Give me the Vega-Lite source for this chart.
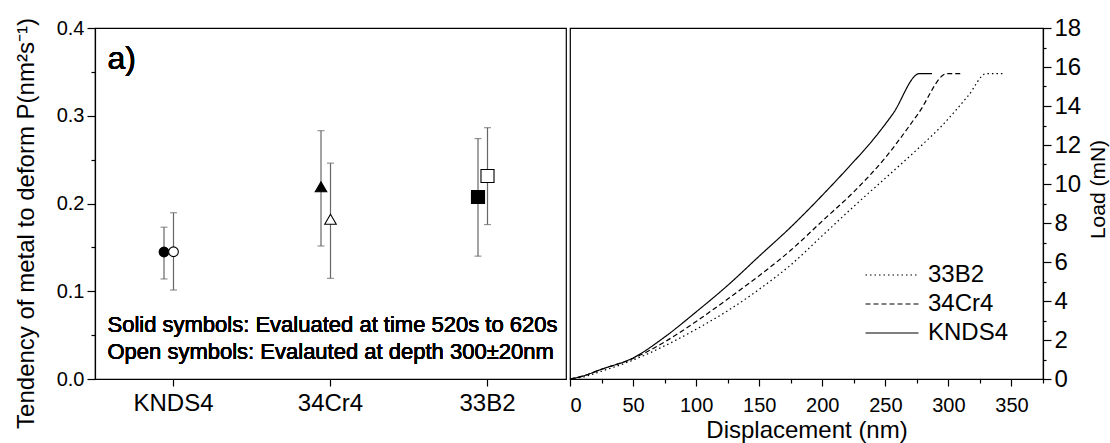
{
  "$schema": "https://vega.github.io/schema/vega-lite/v6.json",
  "padding": {"left": 13, "top": 15, "right": 0, "bottom": 0},
  "spacing": 0,
  "background": "white",
  "resolve": {"scale": {"strokeDash": "independent"}, "legend": {"strokeDash": "independent"}},
  "config": {
    "font": "Liberation Sans",
    "view": {"stroke": "black", "strokeWidth": 1.2},
    "axis": {
      "domainColor": "black", "tickColor": "black", "labelColor": "black", "titleColor": "black",
      "grid": false, "labelFontSize": 20, "titleFontSize": 22, "titleFontWeight": "normal",
      "domainWidth": 1.2, "tickWidth": 1.2, "labelFont": "Liberation Sans", "titleFont": "Liberation Sans"
    },
    "legend": {
      "labelFont": "Liberation Sans", "labelFontSize": 24, "labelColor": "black"
    }
  },
  "hconcat": [
    {
      "width": 471,
      "height": 351,
      "data": {"values": [
        {"sample": "KNDS4", "type": "Solid", "value": 0.1447, "lo": 0.114, "hi": 0.173},
        {"sample": "KNDS4", "type": "Open", "value": 0.145, "lo": 0.1014, "hi": 0.1895},
        {"sample": "34Cr4", "type": "Solid", "value": 0.219, "lo": 0.1516, "hi": 0.283},
        {"sample": "34Cr4", "type": "Open", "value": 0.182, "lo": 0.1147, "hi": 0.246},
        {"sample": "33B2", "type": "Solid", "value": 0.2074, "lo": 0.14, "hi": 0.274},
        {"sample": "33B2", "type": "Open", "value": 0.2313, "lo": 0.176, "hi": 0.2864}
      ]},
      "layer": [
        {
          "mark": {"type": "rule", "color": "#666666", "strokeWidth": 1.2},
          "encoding": {
            "x": {"field": "sample", "type": "nominal", "sort": ["KNDS4", "34Cr4", "33B2"],
                  "scale": {"paddingInner": 0, "paddingOuter": 0},
                  "axis": {"title": null, "labelAngle": 0, "labelFontSize": 24, "tickSize": 7, "labelPadding": 5}},
            "xOffset": {"field": "type", "type": "nominal",
                        "scale": {"type": "point", "domain": ["Solid", "Open"], "range": [69, 78.5], "padding": 0}},
            "y": {"field": "lo", "type": "quantitative",
                  "scale": {"domain": [0, 0.4], "nice": false, "zero": false},
                  "axis": {"orient": "left", "title": "Tendency of metal to deform P(nm²s⁻¹)", "titleFontSize": 24,
                           "values": [0, 0.1, 0.2, 0.3, 0.4], "format": ".1f", "tickSize": 8, "labelPadding": 3,
                           "titlePadding": 18, "titleY": 195}},
            "y2": {"field": "hi"}
          }
        },
        {
          "mark": {"type": "tick", "color": "#666666", "thickness": 1.2, "size": 7, "orient": "horizontal"},
          "encoding": {
            "x": {"field": "sample", "type": "nominal", "sort": ["KNDS4", "34Cr4", "33B2"],
                  "axis": {"title": null, "labelAngle": 0, "labelFontSize": 24, "tickSize": 7, "labelPadding": 5}},
            "xOffset": {"field": "type", "type": "nominal"},
            "y": {"field": "lo", "type": "quantitative", "axis": null}
          }
        },
        {
          "mark": {"type": "tick", "color": "#666666", "thickness": 1.2, "size": 7, "orient": "horizontal"},
          "encoding": {
            "x": {"field": "sample", "type": "nominal", "sort": ["KNDS4", "34Cr4", "33B2"],
                  "axis": {"title": null, "labelAngle": 0, "labelFontSize": 24, "tickSize": 7, "labelPadding": 5}},
            "xOffset": {"field": "type", "type": "nominal"},
            "y": {"field": "hi", "type": "quantitative", "axis": null}
          }
        },
        {
          "mark": {"type": "point", "filled": true, "stroke": "black", "strokeWidth": 1.1, "opacity": 1, "fillOpacity": 1},
          "encoding": {
            "x": {"field": "sample", "type": "nominal", "sort": ["KNDS4", "34Cr4", "33B2"],
                  "axis": {"title": null, "labelAngle": 0, "labelFontSize": 24, "tickSize": 7, "labelPadding": 5}},
            "xOffset": {"field": "type", "type": "nominal"},
            "y": {"field": "value", "type": "quantitative",
                  "axis": {"orient": "left", "values": [0.05, 0.15, 0.25, 0.35], "labels": false, "domain": false, "tickSize": 4, "title": null}},
            "shape": {"field": "sample", "type": "nominal",
                      "scale": {"domain": ["KNDS4", "34Cr4", "33B2"], "range": ["circle", "triangle-up", "square"]}, "legend": null},
            "size": {"field": "sample", "type": "nominal",
                     "scale": {"domain": ["KNDS4", "34Cr4", "33B2"], "range": [95, 170, 75]}, "legend": null},
            "fill": {"field": "type", "type": "nominal",
                     "scale": {"domain": ["Solid", "Open"], "range": ["black", "white"]}, "legend": null}
          }
        },
        {
          "mark": {"type": "text", "text": "a)", "fontSize": 32, "align": "left", "baseline": "middle", "dx": -66, "color": "black"},
          "encoding": {
            "x": {"datum": "KNDS4", "type": "nominal",
                  "axis": {"title": null, "labelAngle": 0, "labelFontSize": 24, "tickSize": 7, "labelPadding": 5}},
            "y": {"datum": 0.365, "type": "quantitative", "axis": null}
          }
        },
        {
          "mark": {"type": "text", "text": "Solid symbols: Evaluated at time 520s to 620s", "fontSize": 22, "align": "left", "baseline": "middle", "dx": -66, "color": "black"},
          "encoding": {
            "x": {"datum": "KNDS4", "type": "nominal",
                  "axis": {"title": null, "labelAngle": 0, "labelFontSize": 24, "tickSize": 7, "labelPadding": 5}},
            "y": {"datum": 0.0615, "type": "quantitative", "axis": null}
          }
        },
        {
          "mark": {"type": "text", "text": "Open symbols: Evalauted at depth 300±20nm", "fontSize": 22, "align": "left", "baseline": "middle", "dx": -66, "color": "black"},
          "encoding": {
            "x": {"datum": "KNDS4", "type": "nominal",
                  "axis": {"title": null, "labelAngle": 0, "labelFontSize": 24, "tickSize": 7, "labelPadding": 5}},
            "y": {"datum": 0.0308, "type": "quantitative", "axis": null}
          }
        }
      ],
      "resolve": {"axis": {"y": "independent"}}
    },
    {
      "width": 473,
      "height": 351,
      "layer": [
        {
          "data": {"values": [
            {"sample": "KNDS4", "d": 0, "load": 0},
            {"sample": "KNDS4", "d": 10, "load": 0.15},
            {"sample": "KNDS4", "d": 25, "load": 0.5},
            {"sample": "KNDS4", "d": 50, "load": 1.08},
            {"sample": "KNDS4", "d": 75, "load": 2.15},
            {"sample": "KNDS4", "d": 100, "load": 3.44},
            {"sample": "KNDS4", "d": 125, "load": 4.8},
            {"sample": "KNDS4", "d": 150, "load": 6.3},
            {"sample": "KNDS4", "d": 176, "load": 7.85},
            {"sample": "KNDS4", "d": 200, "load": 9.42},
            {"sample": "KNDS4", "d": 221, "load": 10.87},
            {"sample": "KNDS4", "d": 240, "load": 12.25},
            {"sample": "KNDS4", "d": 256, "load": 13.6},
            {"sample": "KNDS4", "d": 277, "load": 15.66},
            {"sample": "KNDS4", "d": 287, "load": 15.66},
            {"sample": "34Cr4", "d": 0, "load": 0},
            {"sample": "34Cr4", "d": 10, "load": 0.15},
            {"sample": "34Cr4", "d": 25, "load": 0.5},
            {"sample": "34Cr4", "d": 50, "load": 1.05},
            {"sample": "34Cr4", "d": 75, "load": 1.9},
            {"sample": "34Cr4", "d": 100, "load": 2.95},
            {"sample": "34Cr4", "d": 125, "load": 4.1},
            {"sample": "34Cr4", "d": 150, "load": 5.3},
            {"sample": "34Cr4", "d": 175, "load": 6.6},
            {"sample": "34Cr4", "d": 200, "load": 8.1},
            {"sample": "34Cr4", "d": 225, "load": 9.6},
            {"sample": "34Cr4", "d": 250, "load": 11.35},
            {"sample": "34Cr4", "d": 276, "load": 13.6},
            {"sample": "34Cr4", "d": 299, "load": 15.66},
            {"sample": "34Cr4", "d": 311, "load": 15.66},
            {"sample": "33B2", "d": 0, "load": 0},
            {"sample": "33B2", "d": 10, "load": 0.1},
            {"sample": "33B2", "d": 25, "load": 0.4},
            {"sample": "33B2", "d": 50, "load": 0.97},
            {"sample": "33B2", "d": 75, "load": 1.7},
            {"sample": "33B2", "d": 100, "load": 2.55},
            {"sample": "33B2", "d": 125, "load": 3.5},
            {"sample": "33B2", "d": 150, "load": 4.6},
            {"sample": "33B2", "d": 175, "load": 5.85},
            {"sample": "33B2", "d": 200, "load": 7.35},
            {"sample": "33B2", "d": 225, "load": 8.85},
            {"sample": "33B2", "d": 250, "load": 10.3},
            {"sample": "33B2", "d": 274, "load": 11.7},
            {"sample": "33B2", "d": 295, "load": 13.0},
            {"sample": "33B2", "d": 316, "load": 14.55},
            {"sample": "33B2", "d": 330, "load": 15.66},
            {"sample": "33B2", "d": 344, "load": 15.66}
          ]},
          "mark": {"type": "line", "color": "black", "strokeWidth": 1.2, "interpolate": "monotone"},
          "encoding": {
            "x": {"field": "d", "type": "quantitative",
                  "scale": {"domain": [0, 375], "nice": false, "zero": false},
                  "axis": {"orient": "bottom", "title": "Displacement (nm)", "titleFontSize": 24, "values": [0, 50, 100, 150, 200, 250, 300, 350],
                           "tickSize": 7, "labelPadding": 9, "titlePadding": 3}},
            "y": {"field": "load", "type": "quantitative",
                  "scale": {"domain": [0, 18], "nice": false, "zero": false},
                  "axis": {"orient": "right", "title": "Load (mN)", "values": [0, 2, 4, 6, 8, 10, 12, 14, 16, 18],
                           "labelFontSize": 24, "tickSize": 8, "labelPadding": 3, "titleFontSize": 21,
                           "titleAngle": 270, "titleBaseline": "top", "titlePadding": 7, "titleY": 161}},
            "strokeDash": {"field": "sample", "type": "nominal",
                           "scale": {"domain": ["33B2", "34Cr4", "KNDS4"], "range": [[1.5, 3], [5, 3], [1, 0]]},
                           "legend": {"title": null, "orient": "bottom-right", "offset": 34, "symbolType": "M-5.3,0H5.3",
                                      "symbolSize": 100, "symbolStrokeColor": "black", "symbolStrokeWidth": 1.2,
                                      "labelOffset": 24, "rowPadding": 5}},
            "order": {"field": "d", "type": "quantitative"}
          }
        },
        {
          "mark": {"type": "text", "text": "b)", "fontSize": 32, "align": "left", "baseline": "middle", "color": "black"},
          "encoding": {
            "x": {"datum": 12, "type": "quantitative",
                  "axis": {"orient": "bottom", "values": [25, 75, 125, 175, 225, 275, 325, 375], "labels": false, "domain": false, "tickSize": 4, "title": null}},
            "y": {"datum": 16.8, "type": "quantitative",
                  "axis": {"orient": "right", "values": [1, 3, 5, 7, 9, 11, 13, 15, 17], "labels": false, "domain": false, "tickSize": 3, "title": null}}
          }
        }
      ],
      "resolve": {"axis": {"x": "independent", "y": "independent"}}
    }
  ]
}
